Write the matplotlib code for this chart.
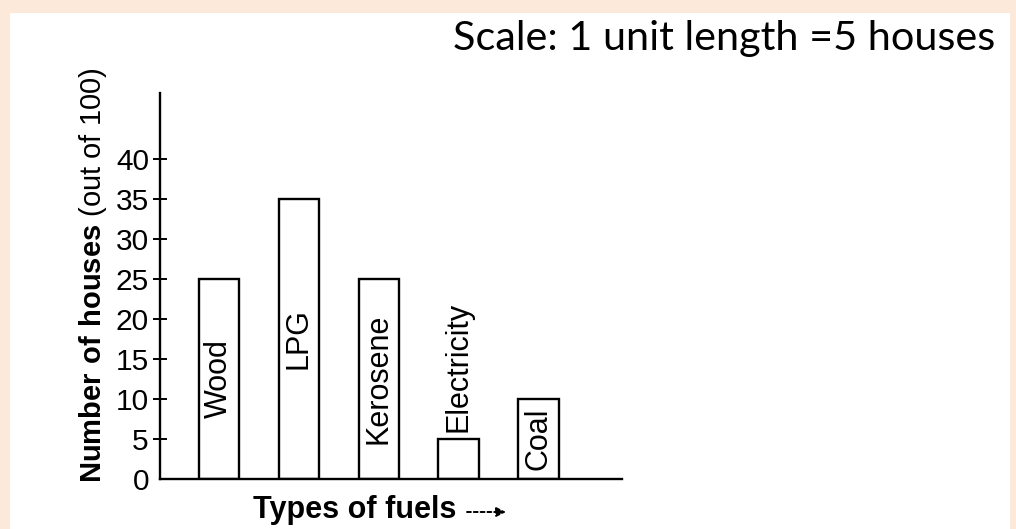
import matplotlib
matplotlib.use("Agg")
import matplotlib.pyplot as plt
from matplotlib.patches import Rectangle

fuels = ["Wood", "LPG", "Kerosene", "Electricity", "Coal"]
houses = [25, 35, 25, 5, 10]
yticks = [0, 5, 10, 15, 20, 25, 30, 35, 40]

plt.rcParams["font.family"] = ["Liberation Sans", "DejaVu Sans"]
plt.rcParams["mathtext.fontset"] = "custom"
plt.rcParams["mathtext.rm"] = "Liberation Sans"
plt.rcParams["mathtext.bf"] = "Liberation Sans:bold"

W, H = 1016, 529
fig = plt.figure(figsize=(W / 100, H / 100), dpi=100, facecolor="#fde9da")
# white page inside the peach frame
fig.patches.append(Rectangle((10 / W, 0), 1000 / W, (H - 13) / H,
                             transform=fig.transFigure, facecolor="white",
                             edgecolor="none", zorder=-10))

ax = fig.add_axes([160 / W, (H - 479) / H, 462 / W, 386 / H])
ax.set_zorder(2)
ax.set_facecolor("none")

x = list(range(len(fuels)))
ax.bar(x, houses, width=0.51, color="white", edgecolor="black", linewidth=1.7)

for xi, name, v in zip(x, fuels, houses):
    if v > 8:
        ax.text(xi, v / 2, name, rotation=90, ha="center", va="center", fontsize=22)
    else:
        ax.text(xi, v + 0.9, name, rotation=90, ha="center", va="bottom", fontsize=22)

ax.set_xlim(-0.7375, 5.04)
ax.set_ylim(0, 48.25)
ax.set_xticks([])
ax.set_yticks(yticks)
ax.tick_params(axis="y", direction="inout", length=10, width=1.4, labelsize=21.5, pad=3)
ax.yaxis.get_major_ticks()[0].tick1line.set_visible(False)
for s in ["top", "right"]:
    ax.spines[s].set_visible(False)
for s in ["left", "bottom"]:
    ax.spines[s].set_linewidth(1.7)

fig.text(93 / W, (H - 483) / H, r"$\mathbf{Number\ of\ houses}$ (out of 100)",
         rotation=90, ha="center", va="bottom", fontsize=21, zorder=3)

fig.text(253 / W, (H - 518) / H, "Types of fuels", fontsize=22, fontweight="bold",
         ha="left", va="baseline", zorder=3)
ax.annotate("", xy=(506 / W, (H - 512) / H), xytext=(467 / W, (H - 512) / H),
            xycoords="figure fraction", textcoords="figure fraction",
            annotation_clip=False,
            arrowprops=dict(arrowstyle="-|>", linestyle=(0, (2, 1.5)), lw=1.4,
                            color="black", mutation_scale=14,
                            shrinkA=0, shrinkB=0))

fig.text(453 / W, (H - 50) / H, "Scale: 1 unit length =5 houses", family="Lato",
         fontsize=29.8, ha="left", va="baseline", zorder=3)

fig.savefig("out.png", dpi=100, facecolor=fig.get_facecolor())
